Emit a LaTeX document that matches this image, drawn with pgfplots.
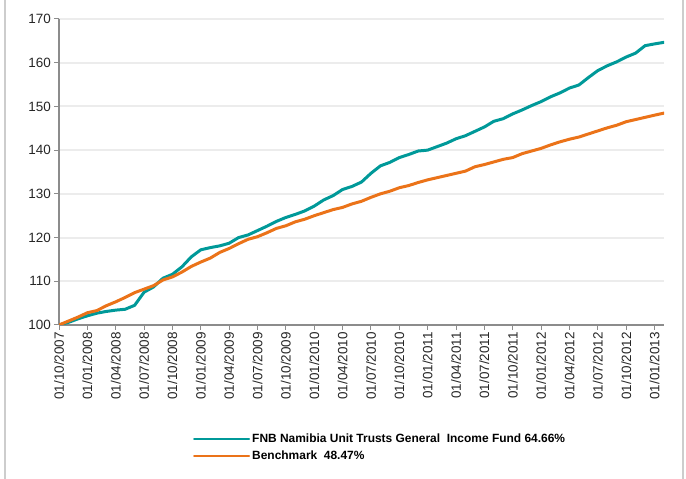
\documentclass[border=0pt]{standalone}
\usepackage{fontspec}
\setmainfont{Liberation Sans}
\usepackage{pgfplots}
\usepackage{pgfplotstable}
\pgfplotsset{compat=1.18}

\definecolor{fundteal}{RGB}{0,153,153}
\definecolor{benchorange}{RGB}{235,115,25}
\definecolor{gridgray}{RGB}{236,236,236}
\definecolor{axisgray}{RGB}{140,140,140}
\definecolor{framegray}{RGB}{205,205,205}

% month index from 01/10/2007, cumulative index (start = 100)
\pgfplotstableread{
m  fund   bench
0  100.0  100.0
1  100.6  100.9
2  101.4  101.8
3  102.1  102.8
4  102.7  103.3
5  103.1  104.4
6  103.4  105.3
7  103.6  106.3
8  104.5  107.4
9  107.5  108.2
10 108.7  109.0
11 110.7  110.3
12 111.6  111.0
13 113.3  112.1
14 115.6  113.4
15 117.2  114.4
16 117.7  115.3
17 118.1  116.6
18 118.7  117.5
19 120.0  118.6
20 120.6  119.6
21 121.6  120.2
22 122.6  121.1
23 123.7  122.1
24 124.6  122.7
25 125.3  123.6
26 126.1  124.2
27 127.2  125.0
28 128.6  125.7
29 129.6  126.4
30 131.0  126.9
31 131.7  127.7
32 132.7  128.3
33 134.7  129.2
34 136.4  130.0
35 137.2  130.6
36 138.3  131.4
37 139.0  131.9
38 139.8  132.6
39 140.0  133.2
40 140.8  133.7
41 141.6  134.2
42 142.6  134.7
43 143.3  135.2
44 144.3  136.2
45 145.3  136.7
46 146.6  137.3
47 147.2  137.9
48 148.3  138.3
49 149.2  139.2
50 150.2  139.8
51 151.1  140.4
52 152.2  141.2
53 153.1  141.9
54 154.2  142.5
55 154.9  143.0
56 156.6  143.7
57 158.2  144.4
58 159.3  145.1
59 160.2  145.7
60 161.3  146.5
61 162.2  147.0
62 163.9  147.5
63 164.3  148.0
64 164.66 148.47
}\perf

\begin{document}
\begin{tikzpicture}[x=1bp,y=1bp]
\useasboundingbox (0,0) rectangle (686,479);
\draw[framegray, line width=2bp] (5,0) -- (5,479);
\draw[framegray, line width=2bp] (683,0) -- (683,479);
\begin{axis}[
    at={(59bp,154bp)}, anchor=south west,
    scale only axis,
    width=605bp, height=306bp,
    xmin=0, xmax=64,
    ymin=100, ymax=170,
    ytick={100,110,...,170},
    xtick={0,3,...,63},
    xticklabels={01/10/2007,01/01/2008,01/04/2008,01/07/2008,01/10/2008,
      01/01/2009,01/04/2009,01/07/2009,01/10/2009,01/01/2010,01/04/2010,
      01/07/2010,01/10/2010,01/01/2011,01/04/2011,01/07/2011,01/10/2011,
      01/01/2012,01/04/2012,01/07/2012,01/10/2012,01/01/2013},
    axis x line*=bottom, axis y line*=left,
    axis line style={axisgray, line width=1.5bp},
    tick align=outside,
    major tick length=5bp,
    tick style={axisgray, line width=1bp},
    ymajorgrids,
    grid style={gridgray, line width=2bp},
    /pgf/number format/assume math mode=true,
    tick label style={font=\fontsize{13.5}{16}\selectfont, text=black!85},
    x tick label style={rotate=90, anchor=east, inner sep=2bp},
    y tick label style={inner sep=3bp},
    legend style={at={(0.2215,-0.35)}, anchor=north west, draw=none, fill=none,
      font=\bfseries\fontsize{12}{14}\selectfont, cells={anchor=west},
      row sep=2bp, inner sep=0pt},
    legend image code/.code={\draw[#1, line width=2bp] (0bp,0bp) -- (55bp,0bp);},
    every axis plot/.append style={line width=3bp, line join=round, line cap=round},
]
\addplot[fundteal] table[x=m, y=fund] {\perf};
\addlegendentry{FNB Namibia Unit Trusts General~ Income Fund 64.66\%}
\addplot[benchorange] table[x=m, y=bench] {\perf};
\addlegendentry{Benchmark~ 48.47\%}
\end{axis}
\end{tikzpicture}
\end{document}
